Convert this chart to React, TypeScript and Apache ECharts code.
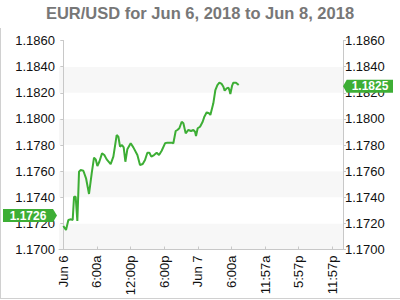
import React, { useEffect, useRef } from "react";
import * as echarts from "echarts";

const titleText = "EUR/USD for Jun 6, 2018 to Jun 8, 2018";

// hours since Jun 6 00:00
const hours = [
  0, 0.48, 0.9, 1.37, 1.67, 1.91, 2.2, 2.5, 2.8, 3.1, 3.57, 4.05, 4.58, 5.06, 5.47, 5.77,
  6.07, 6.42, 6.9, 7.31, 7.73, 8.44, 8.92, 9.51, 9.81, 10.11, 10.46, 10.76, 11.06, 11.41,
  12.01, 12.48, 13.2, 13.67, 14.15, 14.56, 14.98, 15.34, 15.69, 16.17, 16.64, 17.06, 17.53,
  18.13, 18.54, 19.32, 19.61, 20.03, 20.33, 20.68, 21.1, 21.4, 21.81, 22.29, 22.76, 23.18,
  23.48, 23.65, 23.95, 24.37, 24.84, 25.14, 25.56, 25.97, 26.21, 26.74, 27.1, 27.46, 27.81,
  28.23, 28.53, 28.76, 29.12, 29.42, 29.6, 29.77, 30.07, 30.31, 30.78, 31.26,
];

const prices = [
  1.1718, 1.17149, 1.17226, 1.17231, 1.17226, 1.17404, 1.17404, 1.17218, 1.17596, 1.17608,
  1.17603, 1.17545, 1.17425, 1.17583, 1.17703, 1.1769, 1.17639, 1.17672, 1.17736, 1.17723,
  1.1769, 1.17654, 1.17711, 1.17876, 1.17864, 1.17787, 1.178, 1.17782, 1.17672, 1.17767,
  1.17813, 1.17782, 1.17723, 1.17647, 1.17654, 1.17685, 1.17741, 1.17741, 1.17711, 1.17723,
  1.17741, 1.17723, 1.17756, 1.17813, 1.17818, 1.17818, 1.17813, 1.17907, 1.17915, 1.17928,
  1.17978, 1.17966, 1.17889, 1.17915, 1.17907, 1.17915, 1.17902, 1.17869, 1.17928, 1.1794,
  1.17978, 1.18017, 1.1805, 1.18043, 1.1803, 1.18119, 1.18221, 1.18259, 1.18277, 1.18267,
  1.18246, 1.18216, 1.18234, 1.18239, 1.18221, 1.1819, 1.18252, 1.18277, 1.18277, 1.18259,
];

const tickHours = [0, 6, 12, 18, 24, 30, 35.95, 41.95, 47.95];
const tickLabels = ["Jun 6", "6:00a", "12:00p", "6:00p", "Jun 7", "6:00a", "11:57a", "5:57p", "11:57p"];

const xMin = -0.77;
const xMax = 49.85;
const yMin = 1.17;
const yMax = 1.186;
const yStep = 0.002;

const openTag = 1.1726;
const lastTag = 1.1825;

const GREEN = "#3dae35";
const FONT = "Liberation Sans, Arial, sans-serif";

export default function App() {
  const ref = useRef<HTMLDivElement>(null);
  useEffect(() => {
    if (!ref.current) return;
    const chart = echarts.init(ref.current, undefined, { renderer: "svg" });
    const labelFor = (v: number) => {
      const i = tickHours.findIndex((t) => Math.abs(t - v) < 0.01);
      return i >= 0 ? tickLabels[i] : "";
    };
    const yAxisCommon = {
      type: "value",
      min: yMin,
      max: yMax,
      interval: yStep,
      axisLine: { show: true, lineStyle: { color: "#c8c8c8" } },
      axisTick: { show: true, length: 3, lineStyle: { color: "#c8c8c8" } },
      splitLine: { show: false },
      axisLabel: {
        color: "#111",
        fontSize: 13,
        fontFamily: FONT,
        formatter: (v: number) => v.toFixed(4),
      },
    };
    chart.setOption({
      animation: false,
      textStyle: { fontFamily: FONT },
      title: {
        text: titleText,
        left: "center",
        top: -1,
        textStyle: { fontSize: 16.5, fontWeight: "bold", color: "#777", fontFamily: FONT },
      },
      grid: { left: 59, right: 57, top: 40.5, bottom: 50.5, containLabel: false },
      xAxis: {
        type: "value",
        min: xMin,
        max: xMax,
        axisLine: { show: true, lineStyle: { color: "#c8c8c8" } },
        axisTick: { show: true, inside: true, length: 3, customValues: tickHours, lineStyle: { color: "#c8c8c8" } },
        splitLine: { show: false },
        axisLabel: {
          rotate: 90,
          customValues: tickHours,
          color: "#111",
          fontSize: 13,
          fontFamily: FONT,
          margin: 6,
          formatter: labelFor,
        },
      },
      yAxis: [
        {
          ...yAxisCommon,
          position: "left",
          axisLabel: { ...yAxisCommon.axisLabel, margin: 4 },
          splitArea: { show: true, areaStyle: { color: ["#f7f7f7", "#ffffff"] } },
        },
        {
          ...yAxisCommon,
          position: "right",
          axisLabel: { ...yAxisCommon.axisLabel, margin: 2 },
        },
      ],
      graphic: [
        { type: "line", shape: { x1: 0.5, y1: 28, x2: 0.5, y2: 298.5 }, style: { stroke: "#d0d0d0", lineWidth: 1 } },
        { type: "line", shape: { x1: 0, y1: 298.5, x2: 400, y2: 298.5 }, style: { stroke: "#d0d0d0", lineWidth: 1 } },
        { type: "circle", shape: { cx: 271, cy: 229, r: 4.5 }, style: { fill: "#cfcfcf" } },
        {
          type: "text",
          x: 277,
          y: 229,
          scaleX: 1.43,
          style: { text: "OANDA", fill: "#d0d0d0", fontSize: 12, fontFamily: FONT, verticalAlign: "middle" },
        },
      ],
      series: [
        {
          type: "line",
          data: hours.map((h, i) => [h, prices[i]]),
          showSymbol: false,
          symbol: "none",
          lineStyle: { color: GREEN, width: 2 },
          clip: false,
          markPoint: {
            silent: true,
            data: [
              {
                coord: [xMin, openTag],
                symbol: "path://M0,0 L50,0 L54,6.5 L50,13 L0,13 Z",
                symbolSize: [54, 13],
                symbolOffset: [-29, 0],
                itemStyle: { color: GREEN },
                label: {
                  show: true,
                  formatter: openTag.toFixed(4),
                  color: "#fff",
                  fontWeight: "bold",
                  fontSize: 12,
                  fontFamily: FONT,
                  offset: [-2, 0],
                },
              },
              {
                coord: [xMax, lastTag],
                symbol: "path://M4,0 L54,0 L54,13 L4,13 L0,6.5 Z",
                symbolSize: [50, 13],
                symbolOffset: [25, 0],
                itemStyle: { color: GREEN },
                label: {
                  show: true,
                  formatter: lastTag.toFixed(4),
                  color: "#fff",
                  fontWeight: "bold",
                  fontSize: 12,
                  fontFamily: FONT,
                  offset: [2, 0],
                },
              },
            ],
          },
        },
      ],
    });
    return () => chart.dispose();
  }, []);
  return <div ref={ref} style={{ width: 400, height: 300, position: "absolute", left: 0, top: 0 }} />;
}
